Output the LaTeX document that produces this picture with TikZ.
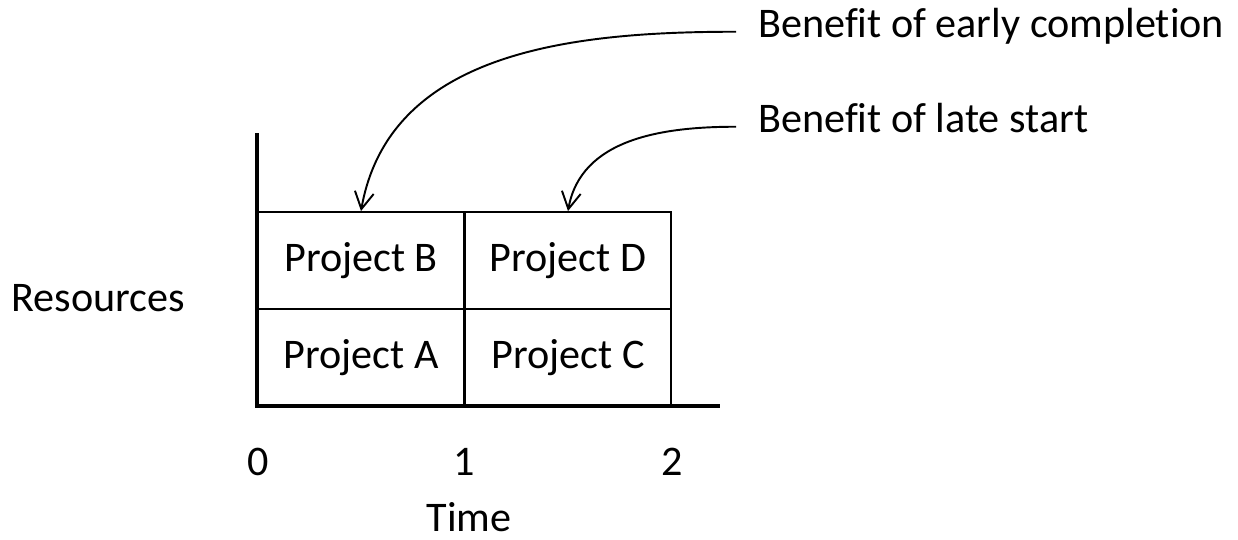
\documentclass[tikz,border=0pt]{standalone}
\usepackage{fontspec}
\setmainfont{Carlito}[Ligatures=CommonOff]
\usetikzlibrary{arrows.meta}

\begin{document}
\begin{tikzpicture}[
  x=0.02cm, y=-0.02cm,
  every node/.style = {font=\fontsize{24}{28}\selectfont, inner sep=2pt},
  cell/.style   = {draw, line width=1.1pt, minimum width=4.12cm, minimum height=1.94cm, inner sep=0pt},
  axis/.style   = {line width=2.3pt},
  note/.style   = {anchor=base west, inner xsep=12.5pt, inner ysep=0pt, text height=0.8em, text depth=0.2em},
  benefit/.style = {line width=1.1pt, -{Straight Barb[length=3.4mm,width=3.8mm,line width=1.1pt]}},
]
\useasboundingbox (0,0) rectangle (1238,539);

% ── Project cells ─────────────────────────────────────────────────────────
\node[cell] (projB) at (361,260.5) {Project B};
\node[cell] (projD) at (568,260.5) {Project D};
\node[cell] (projA) at (361,357.5) {Project A};
\node[cell] (projC) at (568,357.5) {Project C};

% ── Axes ──────────────────────────────────────────────────────────────────
\coordinate (orig) at (257,406);
\coordinate (ytop) at (257,133);
\coordinate (xend) at (720,406);
\draw[axis] (ytop) -- (orig) -- (xend);

\node[anchor=base east] (resources) at (189,311) {Resources};
\foreach \t/\x in {0/258, 1/464, 2/672} {
  \node (tick\t) at (\x,462) {\t};
}
\node[anchor=base, inner sep=0pt] (time) at (469,531) {Time};

% ── Benefit labels and arrows ─────────────────────────────────────────────
\node[note] (early) at (736,37) {Benefit of early completion};
\node[note] (late) at (736,132) {Benefit of late start};

\draw[benefit] (early.west) to[out=180, in=80] (projB.north);
\draw[benefit] (late.west) to[out=180, in=80] (projD.north);

\end{tikzpicture}
\end{document}
